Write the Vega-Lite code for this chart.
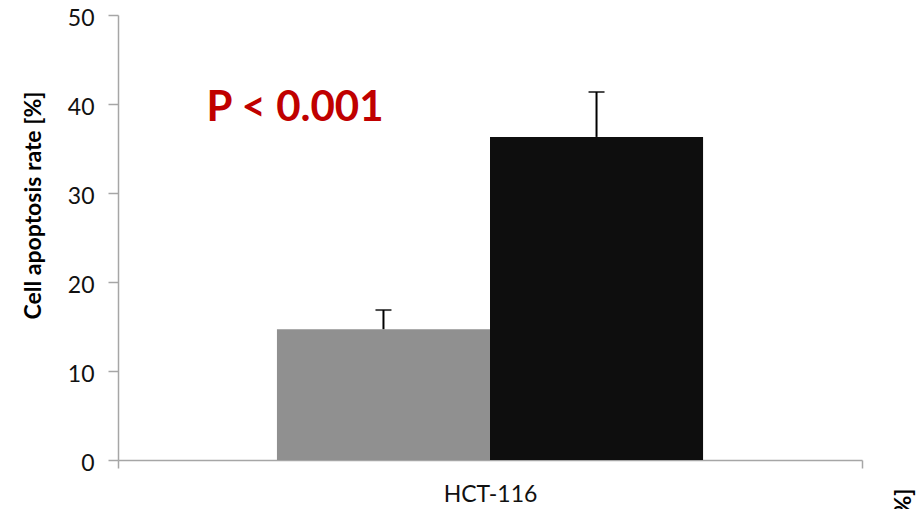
{
  "$schema": "https://vega.github.io/schema/vega-lite/v6.json",
  "autosize": "none",
  "padding": {"left": 118, "top": 15, "right": 60, "bottom": 49},
  "width": 744,
  "height": 445,
  "background": "white",
  "config": {
    "view": {"stroke": null},
    "font": "Lato",
    "axis": {"grid": false, "domainColor": "#a6a6a6", "domainWidth": 1.5, "tickColor": "#a6a6a6", "tickWidth": 1.5, "labelFont": "Lato", "labelFontSize": 23, "labelColor": "#111111", "titleFont": "Lato", "titleFontSize": 23, "titleFontWeight": "bold", "titleColor": "#000000"},
    "axisX": {"tickSize": 8, "labelPadding": 15, "labelAngle": 0, "tickBand": "extent"},
    "axisLeft": {"tickSize": 10, "labelPadding": 14, "labelOffset": 3}
  },
  "layer": [
    {
      "layer": [
        {
          "data": {"name": "bars", "values": [
            {"cell": "HCT-116", "group": "control", "value": 14.7, "upper": 16.85},
            {"cell": "HCT-116", "group": "treated", "value": 36.3, "upper": 41.35}
          ]},
          "layer": [
            {
              "mark": {"type": "bar"},
              "encoding": {
                "x": {"field": "cell", "type": "nominal", "scale": {"paddingInner": 0, "paddingOuter": 0}, "axis": {"title": null}},
                "xOffset": {"field": "group", "type": "nominal", "scale": {"paddingInner": 0, "paddingOuter": 0.746}},
                "y": {"field": "value", "type": "quantitative", "scale": {"domain": [0, 50]},
                  "axis": {"values": [0, 10, 20, 30, 40, 50], "title": "Cell apoptosis rate [%]", "titleX": -85, "titleY": 190, "titleAlign": "center", "titleBaseline": "middle", "titleAngle": -90}},
                "color": {"field": "group", "type": "nominal", "scale": {"domain": ["control", "treated"], "range": ["#909090", "#0e0e0e"]}, "legend": null}
              }
            },
            {
              "mark": {"type": "rule", "color": "#000000", "strokeWidth": 2},
              "encoding": {
                "x": {"field": "cell", "type": "nominal"},
                "xOffset": {"field": "group", "type": "nominal"},
                "y": {"field": "value", "type": "quantitative"},
                "y2": {"field": "upper"}
              }
            },
            {
              "mark": {"type": "tick", "color": "#000000", "size": 16, "thickness": 2},
              "encoding": {
                "x": {"field": "cell", "type": "nominal"},
                "xOffset": {"field": "group", "type": "nominal"},
                "y": {"field": "upper", "type": "quantitative"}
              }
            }
          ]
        },
        {
          "data": {"name": "note", "values": [
            {"cell": "HCT-116", "label": "P < 0.001", "value": 39.55}
          ]},
          "mark": {"type": "text", "font": "Lato", "fontSize": 42, "fontWeight": "bold", "color": "#c00000", "align": "center", "baseline": "middle"},
          "encoding": {
            "x": {"field": "cell", "type": "nominal", "bandPosition": 0.238},
            "y": {"field": "value", "type": "quantitative"},
            "text": {"field": "label"}
          }
        }
      ]
    },
    {
      "data": {"name": "right", "values": [{"v": 0}]},
      "mark": {"type": "rule", "opacity": 0},
      "encoding": {
        "y": {"field": "v", "type": "quantitative", "scale": {"domain": [0, 50]},
          "axis": {"orient": "right", "title": "Cell apoptosis rate [%]", "titleAngle": -90, "titleAlign": "right", "titleBaseline": "middle", "titleX": 41, "titleY": 473, "labels": false, "ticks": false, "domain": false}}
      }
    }
  ],
  "resolve": {"scale": {"y": "independent"}, "axis": {"y": "independent"}}
}
